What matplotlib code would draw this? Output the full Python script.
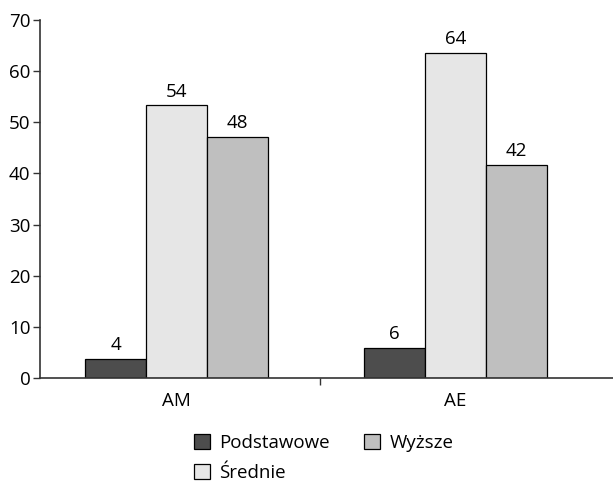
import matplotlib.pyplot as plt
import numpy as np

plt.rcParams['font.family'] = ['Open Sans', 'DejaVu Sans']

# Data
categories = ['AM', 'AE']
series_names = ['Podstawowe', 'Średnie', 'Wyższe']
podstawowe = [3.7, 5.8]
srednie = [53.3, 63.5]
wyzsze = [47.2, 41.6]
labels_podstawowe = ['4', '6']
labels_srednie = ['54', '64']
labels_wyzsze = ['48', '42']

colors = ['#4d4d4d', '#e6e6e6', '#bfbfbf']
axis_col = '#333333'
fs = 13.5

fig = plt.figure(figsize=(6.13, 4.87), dpi=100)
ax = fig.add_axes([0.0653, 0.2238, 0.935, 0.735])

x = np.arange(len(categories))
w = 0.219
series = [podstawowe, srednie, wyzsze]
texts = [labels_podstawowe, labels_srednie, labels_wyzsze]

for i, (vals, labs) in enumerate(zip(series, texts)):
    bars = ax.bar(x + (i - 1) * w, vals, w, color=colors[i],
                  edgecolor='black', linewidth=0.9, label=series_names[i])
    for b, t in zip(bars, labs):
        ax.annotate(t, (b.get_x() + b.get_width() / 2, b.get_height()),
                    xytext=(0, 3.5), textcoords='offset points',
                    ha='center', va='bottom', fontsize=fs)

ax.set_xlim(-0.49, 1.566)
ax.set_ylim(0, 70)
ax.set_yticks(range(0, 71, 10))
ax.set_xticks(x)
ax.set_xticklabels(categories)
ax.set_xticks([0.513], minor=True)

ax.spines['top'].set_visible(False)
ax.spines['right'].set_visible(False)
for s in ['left', 'bottom']:
    ax.spines[s].set_color(axis_col)
    ax.spines[s].set_linewidth(1.2)

ax.tick_params(axis='y', direction='out', length=5, width=1, color=axis_col,
               labelsize=fs, pad=2)
ax.tick_params(axis='x', which='major', length=0, labelsize=fs, pad=10)
ax.tick_params(axis='x', which='minor', direction='out', length=5, width=1,
               color=axis_col)

fig.legend(loc='center', bbox_to_anchor=(0.528, 0.06), ncol=2, frameon=False,
           fontsize=fs, handlelength=0.85, handleheight=0.85,
           handletextpad=0.5, columnspacing=1.85, labelspacing=0.65)

fig.savefig('out.png', dpi=100)
